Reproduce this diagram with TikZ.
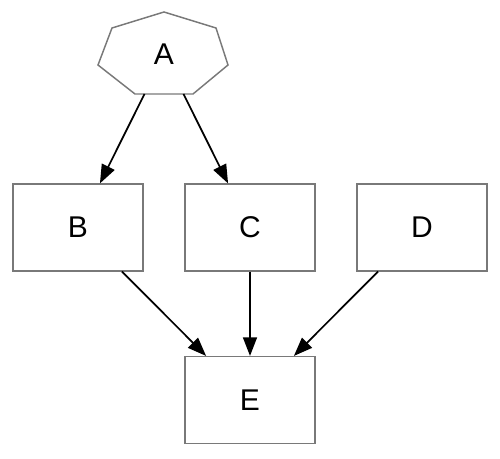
\documentclass[tikz,border=0pt]{standalone}
\usepackage{fontspec}
\setmainfont{Liberation Sans}
\usetikzlibrary{arrows.meta}
\begin{document}
\begin{tikzpicture}[x=0.75pt,y=-0.75pt,
  lbl/.style={font=\fontsize{22.5}{26}\selectfont},
  box/.style={lbl, draw=gray!95!black, line width=1.1pt, minimum width=97.5pt, minimum height=65pt, inner sep=0pt},
  shapeline/.style={draw=gray!95!black, line width=1.1pt},
  edge/.style={draw=black, line width=1.3pt, -{Triangle[length=14pt,width=10.5pt]}}]
\useasboundingbox (0,0) rectangle (500,459);
% heptagon A
\path[shapeline] (164,12) -- (216,28) -- (228,65) -- (193,94) -- (135,94) -- (98,65) -- (112,28) -- cycle;
\node[lbl, inner sep=0pt] (A) at (164,54.5) {A};
\coordinate (Ab) at (144.5,94);
\coordinate (Ac) at (183.5,94);
\node[box] (B) at (78,227.5) {B};
\node[box] (C) at (250,227.5) {C};
\node[box] (D) at (422,227.5) {D};
\node[box] (E) at (250,400) {E};
\draw[edge] (Ab) -- (B);
\draw[edge] (Ac) -- (C);
\draw[edge] (B) -- (E);
\draw[edge] (C) -- (E);
\draw[edge] (D) -- (E);
\end{tikzpicture}
\end{document}
